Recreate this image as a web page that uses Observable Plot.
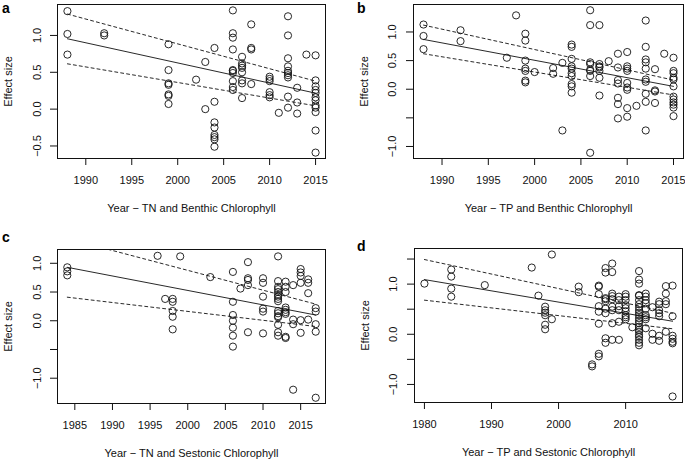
<!DOCTYPE html>
<html><head><meta charset="utf-8">
<script src="https://cdn.jsdelivr.net/npm/d3@7"></script>
<script src="https://cdn.jsdelivr.net/npm/@observablehq/plot@0.6"></script>
<style>
body{margin:0;background:#fff;}
#wrap{position:relative;width:685px;height:461px;font-family:"Liberation Sans",Arial,Helvetica,sans-serif;color:#000;overflow:hidden;}
.panel{position:absolute;}
.panel svg{overflow:visible;}
.tag{position:absolute;font-weight:bold;font-size:14px;line-height:normal;}
</style></head><body><div id="wrap"></div>
<script>
// ---------- Panel a: TN and Benthic Chlorophyll ----------
const yearsA = [1988,1992,1999,2002,2003,2004,2006,2007,2008,2010,2011,2012,2013,2014,2015];
const effectsA = [
  [1.33,1.02,0.74],
  [1.03,1.00],
  [0.88,0.53,0.35,0.33,0.20,0.18,0.07],
  [0.40],
  [0.64,0.00],
  [0.83,0.10,-0.18,-0.25,-0.35,-0.38,-0.41,-0.51],
  [1.34,1.03,0.97,0.81,0.53,0.52,0.49,0.38,0.30,0.26],
  [0.71,0.62,0.59,0.56,0.50,0.39,0.35,0.15],
  [1.15,0.83,0.81,0.34],
  [0.44,0.41,0.38,0.23,0.19,0.16],
  [-0.05],
  [1.26,1.00,0.69,0.58,0.52,0.49,0.46,0.43,0.17,0.02],
  [0.29,0.09,-0.06],
  [0.74],
  [0.73,0.39,0.31,0.26,0.22,0.16,0.12,0.05,0.02,-0.04,-0.29,-0.59]
];
const fitYearsA = [1988, 2015];
const fitA = [0.955, 0.217];
const upperA = [1.29, 0.38];
const lowerA = [0.615, 0.045];

// ---------- Panel b: TP and Benthic Chlorophyll ----------
const yearsB = [1988,1992,1997,1998,1999,2000,2002,2003,2004,2006,2007,2008,2009,2010,2011,2012,2013,2014,2015];
const effectsB = [
  [1.13,0.93,0.70],
  [1.03,0.84],
  [0.55],
  [1.29],
  [0.97,0.85,0.50,0.36,0.32,0.15,0.12],
  [0.30],
  [0.37,0.27],
  [0.46,-0.72],
  [0.78,0.74,0.53,0.40,0.36,0.28,0.23,0.09,0.05,-0.06],
  [1.38,1.12,0.47,0.44,0.34,0.32,0.23,-1.11],
  [1.12,0.44,0.40,0.38,0.32,0.20,-0.11],
  [0.49],
  [0.62,0.38,0.16,0.10,-0.15,-0.26,-0.51],
  [0.65,0.40,0.36,0.32,0.11,0.03,-0.01,-0.33,-0.48],
  [-0.29],
  [1.20,0.74,0.52,0.47,0.36,0.17,0.13,-0.08,-0.22,-0.72],
  [0.35,-0.02,-0.04,-0.24],
  [0.62],
  [0.55,0.32,0.28,0.20,0.17,0.05,-0.13,-0.18,-0.23,-0.27,-0.32,-0.47]
];
const fitYearsB = [1988, 2015];
const fitB = [0.87, 0.05];
const upperB = [1.12, 0.16];
const lowerB = [0.62, -0.10];

// ---------- Panel c: TN and Sestonic Chlorophyll ----------
const yearsC = [1984,1996,1997,1998,1999,2003,2006,2007,2008,2010,2012,2013,2014,2015,2016,2017];
const effectsC = [
  [0.93,0.86,0.79],
  [1.13],
  [0.38],
  [0.38,0.33,0.17,0.07,-0.15],
  [1.12],
  [0.76],
  [0.85,0.33,0.10,0.00,-0.12,-0.26,-0.45],
  [0.56],
  [1.02,0.74,0.71,0.62,-0.20],
  [0.74,0.66,0.42,0.21,0.16,-0.22],
  [1.12,0.69,0.59,0.55,0.50,0.45,0.42,0.38,0.34,0.17,0.13,0.08,0.06,-0.07,-0.20,-0.26],
  [0.68,0.59,0.50,0.23,0.19,0.15,0.12,-0.28,-0.30],
  [0.62,0.02,-0.06,-1.20],
  [0.90,0.84,0.78,0.66,0.01,-0.21],
  [0.72,0.66,0.48,0.02],
  [0.22,0.16,-0.06,-0.19,-1.34]
];
const fitYearsC = [1984, 2017];
const fitC = [0.93, 0.10];
const upperC = [1.43, 0.29];
const lowerC = [0.41, -0.10];

// ---------- Panel d: TP and Sestonic Chlorophyll ----------
const yearsD = [1980,1984,1989,1996,1997,1998,1999,2003,2005,2006,2007,2008,2009,2010,2011,2012,2013,2014,2015,2016,2017];
const effectsD = [
  [1.01],
  [1.29,1.15,0.91,0.75],
  [0.98],
  [1.33],
  [0.77],
  [0.55,0.48,0.43,0.38,0.19,0.10],
  [1.59,0.30],
  [0.95,0.84],
  [-0.60,-0.64],
  [0.97,0.95,0.80,0.56,0.45,0.21,-0.39,-0.44],
  [1.32,1.23,0.72,0.70,0.66,0.51,0.42,-0.08,-0.17],
  [1.41,1.24,0.81,0.76,0.70,0.55,0.48,0.22,-0.11],
  [0.75,0.68,0.56,0.48,0.25,-0.11],
  [0.80,0.75,0.68,0.58,0.52,0.46,0.38,0.34,0.30],
  [0.14],
  [1.26,1.09,1.01,0.78,0.77,0.68,0.60,0.54,0.48,0.43,0.38,0.32,0.27,0.22,0.15,0.09,0.05,-0.01,-0.05,-0.11,-0.17,-0.22],
  [0.81,0.75,0.68,0.62,0.51,0.38,0.34,0.30,0.12],
  [0.54,0.01,-0.11],
  [0.65,0.60,0.48,0.42,0.36,-0.03,-0.13],
  [0.96,0.81,0.66,0.60,0.05],
  [0.97,0.36,-0.03,-0.09,-0.15,-0.18,-1.24]
];
const fitYearsD = [1980, 2017];
const fitD = [1.09, 0.26];
const upperD = [1.49, 0.42];
const lowerD = [0.68, 0.11];

// ---------- Axis ticks and titles ----------
const xTicksAB = [1990, 1995, 2000, 2005, 2010, 2015];
const xTicksC = [1985, 1990, 1995, 2000, 2005, 2010, 2015];
const xTicksD = [1980, 1990, 2000, 2010];
const yTicksA = [-0.5, 0, 0.5, 1.0];
const yLabelsA = [-0.5, 0, 0.5, 1.0];
const yTicksBC = [-1.0, -0.5, 0, 0.5, 1.0];
const yLabelsBC = [-1.0, 0, 0.5, 1.0];
const yTicksD = [-1.0, -0.5, 0, 0.5, 1.0, 1.5];
const yLabelsD = [-1.0, 0, 1.0];
const titles = ["Year \u2212 TN and Benthic Chlorophyll", "Year \u2212 TP and Benthic Chlorophyll",
                "Year \u2212 TN and Sestonic Chlorophyll", "Year \u2212 TP and Sestonic Chlorophyll"];
const yTitle = "Effect size";
const tags = ["a", "b", "c", "d"];

const FONT = '"Liberation Sans", Arial, Helvetica, sans-serif';
const fmt = v => (v < 0 ? "\u2212" : "") + Math.abs(v).toFixed(1);

function panel(cfg) {
  const pts = cfg.years.flatMap((yr, i) => cfg.effects[i].map(v => ({year: yr, effect: v})));
  const fit = cfg.fitYears.map((yr, i) => ({year: yr, fit: cfg.fit[i], upper: cfg.upper[i], lower: cfg.lower[i]}));
  const ink = "#111";
  const p = Plot.plot({
    width: cfg.width, height: cfg.height,
    marginLeft: cfg.ml, marginRight: cfg.mr, marginTop: cfg.mt, marginBottom: cfg.mb,
    style: {fontFamily: FONT, fontSize: "11px", color: ink, background: "transparent", overflow: "visible"},
    x: {domain: cfg.xDomain},
    y: {domain: cfg.yDomain},
    marks: [
      Plot.axisX({ticks: cfg.xTicks, tickSize: 7, fill: "none", stroke: ink, label: null}),
      Plot.axisY({ticks: cfg.yTicks, tickSize: 7, fill: "none", stroke: ink, label: null}),
      Plot.text(cfg.xTicks, {x: d => d, text: d => String(d), frameAnchor: "bottom", lineAnchor: "middle", dy: 22, fill: ink, fontSize: 11}),
      Plot.text(cfg.yLabels, {y: d => d, text: d => fmt(d), frameAnchor: "left", textAnchor: "middle", lineAnchor: "middle", dx: cfg.ydx, rotate: -90, fill: ink, fontSize: 11}),
      Plot.text([cfg.title], {frameAnchor: "bottom", lineAnchor: "middle", textAnchor: "middle", dy: 50, fill: ink, fontSize: 11}),
      Plot.text([yTitle], {frameAnchor: "left", lineAnchor: "middle", textAnchor: "middle", dx: -49, rotate: -90, fill: ink, fontSize: 11}),
      Plot.line(fit, {x: "year", y: "upper", stroke: ink, strokeWidth: 0.9, strokeDasharray: "3,3", clip: true}),
      Plot.line(fit, {x: "year", y: "lower", stroke: ink, strokeWidth: 0.9, strokeDasharray: "3,3", clip: true}),
      Plot.line(fit, {x: "year", y: "fit", stroke: ink, strokeWidth: 0.9, clip: true}),
      Plot.dot(pts, {x: "year", y: "effect", r: 3.6, stroke: ink, strokeWidth: 0.9, fill: "none"}),
      Plot.frame({stroke: ink, strokeWidth: 1})
    ]
  });
  const div = document.createElement("div");
  div.className = "panel";
  div.style.left = cfg.left + "px";
  div.style.top = cfg.top + "px";
  div.appendChild(p);
  document.getElementById("wrap").appendChild(div);
  const t = document.createElement("div");
  t.className = "tag";
  t.textContent = cfg.tag;
  t.style.left = cfg.tagX + "px";
  t.style.top = cfg.tagY + "px";
  document.getElementById("wrap").appendChild(t);
}

panel({years: yearsA, effects: effectsA, fitYears: fitYearsA, fit: fitA, upper: upperA, lower: lowerA,
  xDomain: [1986.92, 2016.08], yDomain: [-0.67, 1.42], xTicks: xTicksAB, yTicks: yTicksA, yLabels: yLabelsA,
  title: titles[0], tag: tags[0], left: 0, top: 0, width: 342, height: 230, ml: 57, mr: 17, mt: 4, mb: 72, ydx: -20, tagX: 2, tagY: 0});
panel({years: yearsB, effects: effectsB, fitYears: fitYearsB, fit: fitB, upper: upperB, lower: lowerB,
  xDomain: [1986.92, 2016.08], yDomain: [-1.21, 1.48], xTicks: xTicksAB, yTicks: yTicksBC, yLabels: yLabelsBC,
  title: titles[1], tag: tags[1], left: 342, top: 0, width: 343, height: 230, ml: 71, mr: 2, mt: 4, mb: 72, ydx: -21, tagX: 357, tagY: 0});
panel({years: yearsC, effects: effectsC, fitYears: fitYearsC, fit: fitC, upper: upperC, lower: lowerC,
  xDomain: [1982.7, 2018.3], yDomain: [-1.44, 1.24], xTicks: xTicksC, yTicks: yTicksBC, yLabels: yLabelsBC,
  title: titles[2], tag: tags[2], left: 0, top: 230, width: 342, height: 231, ml: 57, mr: 17, mt: 19, mb: 58, ydx: -20, tagX: 2, tagY: 229});
panel({years: yearsD, effects: effectsD, fitYears: fitYearsD, fit: fitD, upper: upperD, lower: lowerD,
  xDomain: [1978.52, 2018.48], yDomain: [-1.36, 1.71], xTicks: xTicksD, yTicks: yTicksD, yLabels: yLabelsD,
  title: titles[3], tag: tags[3], left: 342, top: 230, width: 343, height: 231, ml: 72, mr: 3, mt: 18, mb: 59, ydx: -21, tagX: 357, tagY: 238});
</script></body></html>
